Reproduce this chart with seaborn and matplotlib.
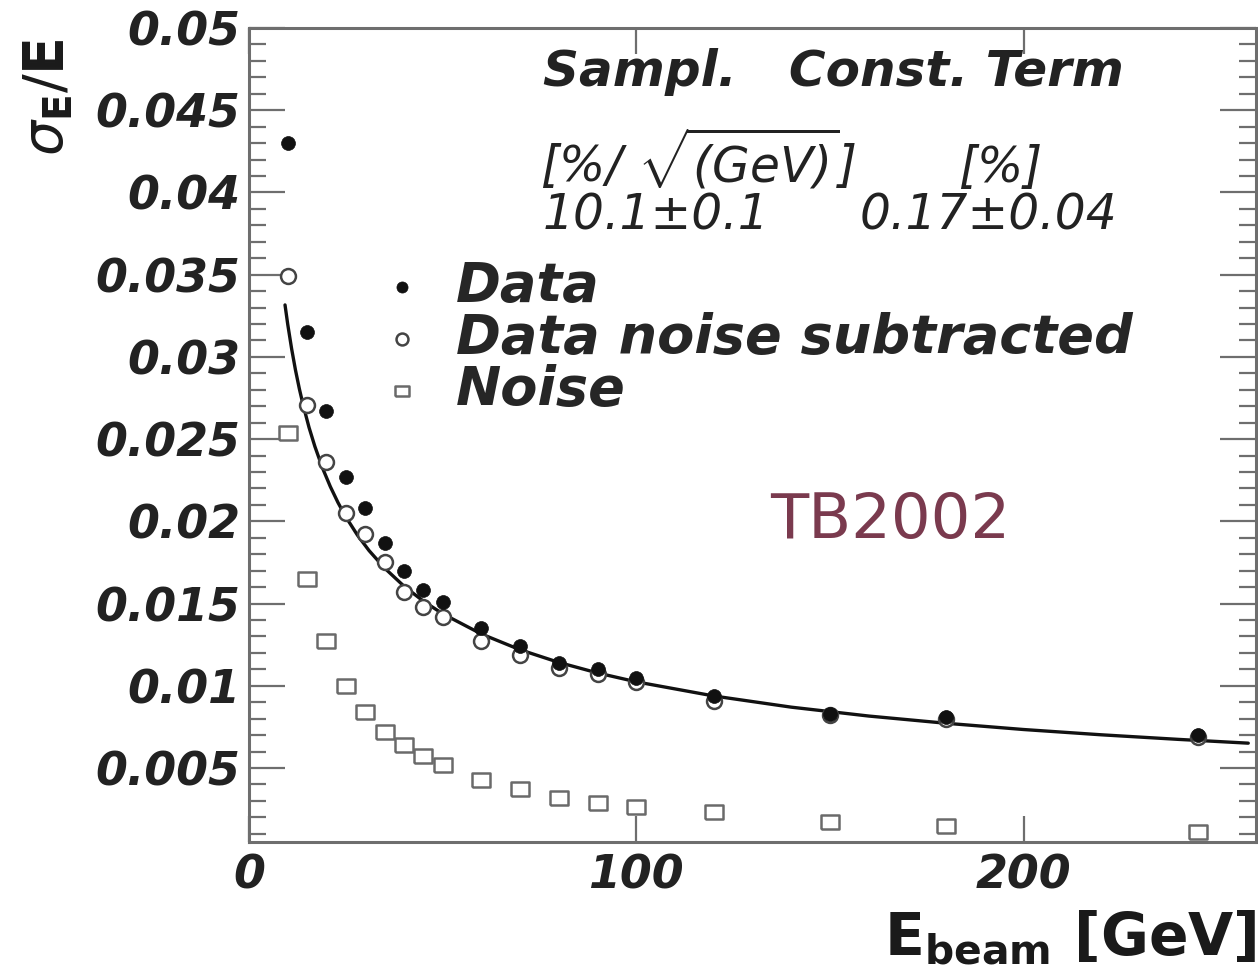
import numpy as np
import pandas as pd
import matplotlib
matplotlib.use("Agg")
import matplotlib.pyplot as plt
from matplotlib.ticker import FixedLocator, MultipleLocator
from matplotlib.font_manager import FontProperties
import seaborn as sns

# Beam energies [GeV] and resolutions
energy = [10, 15, 20, 25, 30, 35, 40, 45, 50, 60, 70, 80, 90, 100, 120, 150, 180, 245]
res_data = [0.0430, 0.0315, 0.0267, 0.0227, 0.0208, 0.0187, 0.0170, 0.0158, 0.0151,
            0.0135, 0.0124, 0.0114, 0.0110, 0.0105, 0.0094, 0.0083, 0.0081, 0.0070]
res_subtracted = [0.0349, 0.0271, 0.0236, 0.0205, 0.0192, 0.0175, 0.0157, 0.0148, 0.0142,
                  0.0127, 0.0119, 0.0111, 0.0107, 0.0102, 0.0091, 0.0082, 0.0080, 0.0069]
res_noise = [0.0254, 0.0165, 0.0127, 0.0100, 0.0084, 0.0072, 0.0064, 0.0057, 0.0052,
             0.0043, 0.0037, 0.0032, 0.0029, 0.0026, 0.0023, 0.0017, 0.0015, 0.0011]

# fitted curve
fit_e = [9.3, 10, 11, 12, 13, 14, 15.5, 17, 19, 21, 23, 25, 28, 31, 35, 40, 45, 50,
         60, 70, 80, 90, 100, 120, 140, 160, 180, 200, 220, 240, 258]
fit_res = [0.03316, 0.03198, 0.03050, 0.02920, 0.02806, 0.02705, 0.02571, 0.02456,
           0.02323, 0.02211, 0.02113, 0.02027, 0.01916, 0.01822, 0.01716, 0.01606,
           0.01515, 0.01438, 0.01315, 0.01219, 0.01142, 0.01078, 0.01024, 0.00938,
           0.00870, 0.00816, 0.00772, 0.00734, 0.00702, 0.00674, 0.00651]

x_ticks = [0, 100, 200]
x_ticklabels = ["0", "100", "200"]
y_ticks = [0.005, 0.01, 0.015, 0.02, 0.025, 0.03, 0.035, 0.04, 0.045, 0.05]
y_ticklabels = ["0.005", "0.01", "0.015", "0.02", "0.025", "0.03", "0.035", "0.04", "0.045", "0.05"]

sns.set_style("ticks")
plt.rcParams["font.family"] = ["DejaVu Sans"]
plt.rcParams["mathtext.fontset"] = "custom"
plt.rcParams["mathtext.rm"] = "DejaVu Sans:oblique"
plt.rcParams["mathtext.it"] = "DejaVu Sans:oblique"
plt.rcParams["mathtext.bf"] = "DejaVu Sans:bold"

W, H = 1258, 974
fig = plt.figure(figsize=(W / 100, H / 100), dpi=100)
ax = fig.add_axes([249 / W, 1 - 842 / H, (1256 - 249) / W, (842 - 28) / H])

df = pd.DataFrame({"E": energy, "data": res_data, "sub": res_subtracted, "noise": res_noise})
fit = pd.DataFrame({"E": fit_e, "res": fit_res})

rect = [(-1.33, -1), (1.33, -1), (1.33, 1), (-1.33, 1), (-1.33, -1)]

sns.lineplot(data=fit, x="E", y="res", ax=ax, color="#111111", lw=2.4, zorder=2)
sns.scatterplot(data=df, x="E", y="noise", ax=ax, marker=rect, s=170, facecolor="white",
                edgecolor="#6a6a6a", linewidth=1.8, label="Noise", zorder=3)
sns.scatterplot(data=df, x="E", y="sub", ax=ax, marker="o", s=115, facecolor="white",
                edgecolor="#444444", linewidth=1.8, label="Data noise subtracted", zorder=3)
sns.scatterplot(data=df, x="E", y="data", ax=ax, marker="o", s=100, color="#111111",
                edgecolor="#111111", linewidth=0.5, label="Data", zorder=4)

ax.set_xlim(0, 260)
ax.set_ylim(0.0005, 0.05)
ax.set_xlabel("")
ax.set_ylabel("")

tick_font = FontProperties(family="DejaVu Sans", weight="bold", style="oblique", size=33)
ax.xaxis.set_major_locator(FixedLocator(x_ticks))
ax.set_xticklabels(x_ticklabels, fontproperties=tick_font, color="#222222")
ax.yaxis.set_major_locator(FixedLocator(y_ticks))
ax.yaxis.set_minor_locator(MultipleLocator(0.001))
ax.set_yticklabels(y_ticklabels, fontproperties=tick_font, color="#222222")

for sp in ax.spines.values():
    sp.set_color("#6e6e6e")
    sp.set_linewidth(2.2)
ax.tick_params(which="both", direction="in", top=True, right=True, color="#6e6e6e", width=1.6)
ax.tick_params(axis="y", which="major", length=26, pad=6)
ax.tick_params(axis="y", which="minor", length=12)
ax.tick_params(axis="x", which="major", length=19, pad=8)

# legend
handles, labels = ax.get_legend_handles_labels()
order = [labels.index("Data"), labels.index("Data noise subtracted"), labels.index("Noise")]
leg_font = FontProperties(family="DejaVu Sans", weight="bold", style="oblique", size=39)
ax.legend([handles[i] for i in order], [labels[i] for i in order], prop=leg_font,
          frameon=False, loc="upper left", bbox_to_anchor=(388 / W, 1 - 260 / H),
          bbox_transform=fig.transFigure, borderaxespad=0, borderpad=0,
          handlelength=0.5, handletextpad=0.75, labelspacing=0.0, markerscale=0.8)

# fit parameter block
par_bold = FontProperties(family="DejaVu Sans", weight="bold", style="oblique", size=36)
par_font = FontProperties(family="DejaVu Sans", style="oblique", size=35)
fig.text(543 / W, 1 - 86 / H, "Sampl.   Const. Term", fontproperties=par_bold, color="#222222")
fig.text(540 / W, 1 - 182 / H, r"[%/ $\sqrt{\mathrm{(GeV)}}$]", fontproperties=par_font, color="#222222")
fig.text(958 / W, 1 - 182 / H, "[%]", fontproperties=par_font, color="#222222")
fig.text(543 / W, 1 - 229 / H, "10.1\u00b10.1", fontproperties=par_font, color="#222222")
fig.text(860 / W, 1 - 229 / H, "0.17\u00b10.04", fontproperties=par_font, color="#222222")

fig.text(770 / W, 1 - 538 / H, "TB2002", fontsize=45, color="#7a3a4e")

# axis titles
fig.text(1257 / W, 1 - 955 / H, r"$\mathbf{E}_{\mathbf{beam}}$ [GeV]", fontsize=42,
         fontweight="bold", color="#1a1a1a", ha="right", va="baseline")
fig.text(48 / W, 1 - 38 / H, r"$\sigma_{\mathbf{E}}$/$\mathbf{E}$", fontsize=40, rotation=90,
         color="#1a1a1a", ha="center", va="top")

fig.savefig("out.png", dpi=100)
